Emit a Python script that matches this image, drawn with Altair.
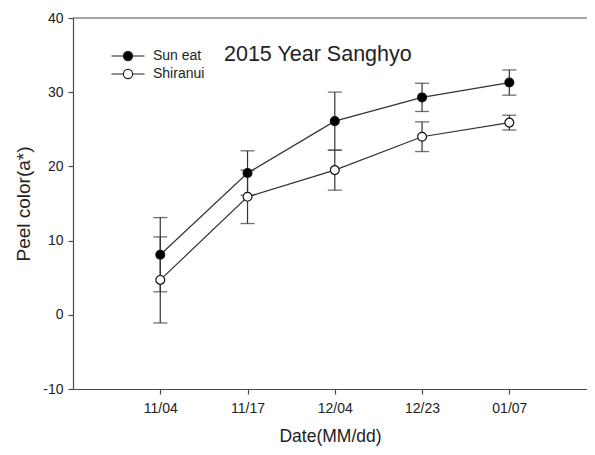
import altair as alt
import pandas as pd

dates = ["11/04", "11/17", "12/04", "12/23", "01/07"]
positions = [1, 2, 3, 4, 5]
series_names = ["Sun eat", "Shiranui"]
sun_mean = [8.1, 19.1, 26.1, 29.3, 31.3]
sun_err = [5.0, 3.0, 3.9, 1.9, 1.7]
shi_mean = [4.7, 15.9, 19.5, 24.0, 25.9]
shi_err = [5.8, 3.6, 2.7, 2.0, 1.0]
y_ticks = [-10, 0, 10, 20, 30, 40]
title_text = "2015 Year Sanghyo"

rows = []
for name, means, errs in [(series_names[0], sun_mean, sun_err), (series_names[1], shi_mean, shi_err)]:
    for p, d, m, e in zip(positions, dates, means, errs):
        rows.append({"series": name, "pos": p, "date": d, "mean": m,
                     "lo": m - e, "hi": m + e})
df = pd.DataFrame(rows)
caps = df.melt(id_vars=["series", "pos"], value_vars=["lo", "hi"], value_name="cap")

W, H = 514, 371
FONT = "Liberation Sans"
INK = "#222222"
AX = "#4a4a4a"

label_expr = "['', " + ", ".join(f"'{d}'" for d in dates) + "][datum.value]"

xs = alt.Scale(domain=[0, 5.89], nice=False, zero=False)
ys = alt.Scale(domain=[-10, 40], nice=False, zero=False)

x_enc = alt.X("pos:Q", scale=xs, axis=alt.Axis(
    title="Date(MM/dd)", values=positions, labelExpr=label_expr, grid=False,
    domainColor=AX, tickColor=AX, tickSize=5, labelPadding=7, titlePadding=12,
    labelFont=FONT, labelFontSize=14, labelColor=INK,
    titleFont=FONT, titleFontSize=17.5, titleFontWeight="normal", titleColor=INK))
y_enc = alt.Y("mean:Q", scale=ys, axis=alt.Axis(
    title="Peel color(a*)", values=y_ticks, grid=False, labelExpr="datum.value + ''",
    domainColor=AX, tickColor=AX, tickSize=5, labelPadding=5, titlePadding=9,
    labelFont=FONT, labelFontSize=14, labelColor=INK,
    titleFont=FONT, titleFontSize=19, titleFontWeight="normal", titleColor=INK))

base = alt.Chart(df)

lines = base.mark_line(color="#333333", strokeWidth=1.2).encode(
    x=x_enc, y=y_enc, detail="series:N", order="pos:Q")

bars = base.mark_rule(color="#333333", strokeWidth=1.2).encode(
    x="pos:Q", y="lo:Q", y2="hi:Q")

cap_marks = alt.Chart(caps).mark_tick(color="#333333", thickness=1.3, size=14,
                                      orient="horizontal").encode(
    x="pos:Q", y="cap:Q")

# legend symbol: line with circle, scale factor sqrt(100)/2 = 5 px per unit
r = 0.92
L = 3.3
sym = (f"M-{L},0L-{r},0M{r},0L{L},0M{r},0A{r},{r} 0 1,1 -{r},0A{r},{r} 0 1,1 {r},0Z")

points = base.mark_point(filled=False, size=78, strokeWidth=1.2, opacity=1,
                         stroke="#111111").encode(
    x="pos:Q", y="mean:Q",
    fill=alt.Fill("series:N",
                  scale=alt.Scale(domain=series_names, range=["#000000", "#ffffff"]),
                  legend=alt.Legend(title=None, orient="none", legendX=48, legendY=31,
                                    symbolType=sym, symbolSize=100,
                                    symbolStrokeColor="#222222", symbolStrokeWidth=1.2,
                                    symbolOpacity=1, rowPadding=4,
                                    labelFont=FONT, labelFontSize=14, labelColor=INK,
                                    labelOffset=18)))

frame = alt.Chart(pd.DataFrame({"top": [40]})).mark_rule(color=AX, strokeWidth=1).encode(
    y="top:Q", x=alt.value(0), x2=alt.value(W))

title = alt.Chart(pd.DataFrame({"t": [title_text]})).mark_text(
    align="left", baseline="middle", font=FONT, fontSize=21.5, color=INK).encode(
    text="t:N", x=alt.value(151), y=alt.value(37))

chart = alt.layer(frame, lines, bars, cap_marks, points, title).properties(
    width=W, height=H,
    autosize=alt.AutoSizeParams(type="none"),
    padding={"left": 65, "top": 10, "right": 0, "bottom": 58},
).configure_view(stroke=None).configure_axis(domainWidth=1.2, tickWidth=1.2)

chart.save("out.html", embed_options={"renderer": "svg", "actions": False})
